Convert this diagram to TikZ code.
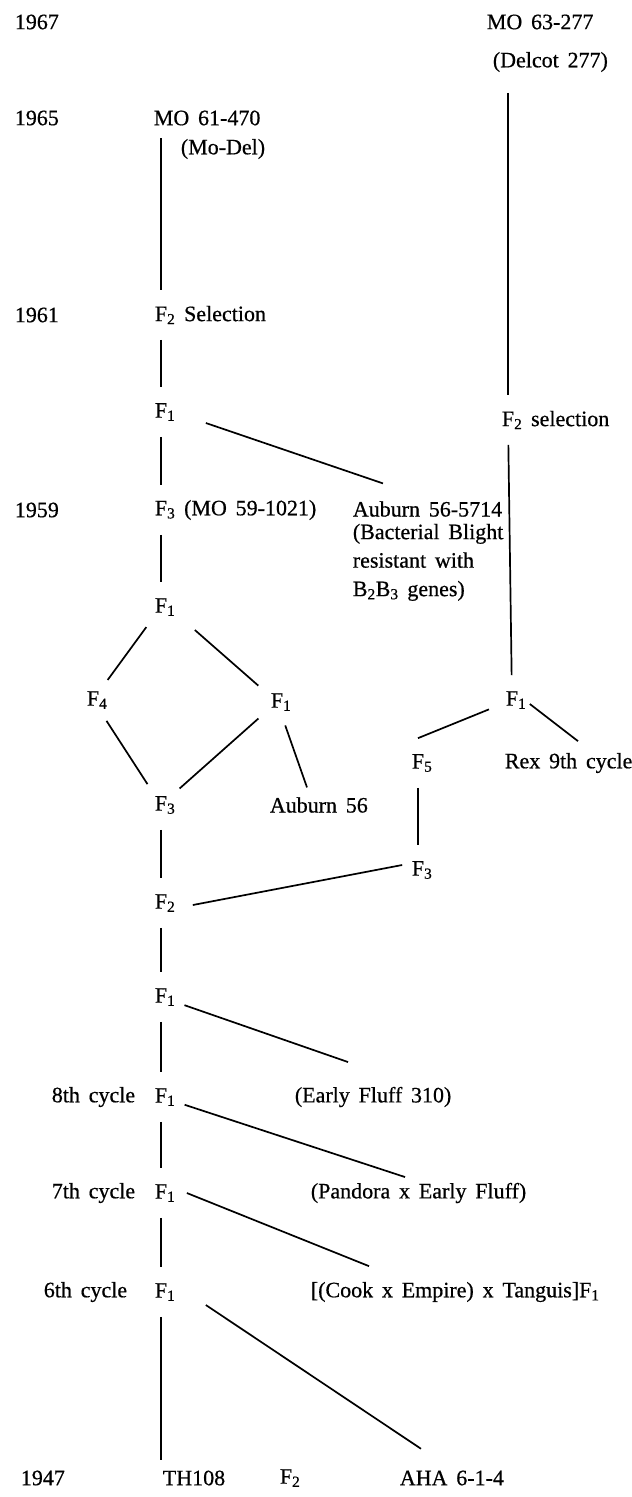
\documentclass[tikz,border=0pt]{standalone}
\usepackage{fontspec}
\setmainfont{Liberation Serif}[FakeBold=0.6]
\newcommand{\lblfont}{\fontsize{22}{28.5}\selectfont\spaceskip=.4em\relax}
\newcommand{\gen}[1]{F\rlap{\textsubscript{#1}}}

\begin{document}
\begin{tikzpicture}[x=1pt,y=-1pt,line width=1.7pt,
		every node/.style={font=\lblfont,inner sep=0pt},
		gen/.style={circle,minimum size=48pt},
		lbl/.style={anchor=west}]
	\useasboundingbox (0,0) rectangle (632,1497);

	% years and cycles
	\node[lbl] (y1967) at (14,22) {1967};
	\node[lbl] (y1965) at (14,118) {1965};
	\node[lbl] (y1961) at (14,315) {1961};
	\node[lbl] (y1959) at (14,510) {1959};
	\node[lbl] (y1947) at (20,1478) {1947};
	\node[lbl] (c8) at (51,1097) {8th cycle};
	\node[lbl] (c7) at (51,1193) {7th cycle};
	\node[lbl] (c6) at (43,1292) {6th cycle};

	% main line
	\node[lbl] (mo61) at (153,118) {MO 61-470};
	\node[lbl] (model) at (180,149) {(Mo-Del)};
	\node[gen] (f2sel) at (161,315) {F\rlap{\textsubscript{2} Selection}};
	\node[gen] (f1a) at (161,412) {\gen{1}};
	\node[gen] (f3a) at (161,510) {F\rlap{\textsubscript{3} (MO 59-1021)}};
	\node[lbl] (aub) at (352,509) {Auburn 56-5714};
	\node[anchor=north west,align=left] (aubnote) at (352,523) {(Bacterial Blight\\resistant with\\B\textsubscript{2}B\textsubscript{3} genes)};
	\node[gen] (f1b) at (161,607) {\gen{1}};
	\node[gen] (f4) at (93,700) {\gen{4}};
	\node[gen] (f1c) at (277,702) {\gen{1}};
	\node[gen] (f3b) at (161,805) {\gen{3}};
	\node[lbl] (aub56) at (269,805) {Auburn 56};
	\node[gen] (f2a) at (161,903) {\gen{2}};
	\node[gen] (f1d) at (161,997) {\gen{1}};
	\node[gen] (f1e) at (161,1097) {\gen{1}};
	\node[lbl] (ef) at (294,1097) {(Early Fluff 310)};
	\node[gen] (f1f) at (161,1193) {\gen{1}};
	\node[lbl] (pan) at (310,1193) {(Pandora x Early Fluff)};
	\node[gen] (f1g) at (161,1292) {\gen{1}};
	\node[lbl] (cook) at (310,1292) {[(Cook x Empire) x Tanguis]F\textsubscript{1}};
	\node[lbl] (th108) at (162,1478) {TH108};
	\node[gen] (f2b) at (286,1478) {\gen{2}};
	\node[lbl] (aha) at (399,1478) {AHA 6-1-4};

	% right line
	\node[lbl] (mo63) at (486,22) {MO 63-277};
	\node[lbl] (delcot) at (492,62) {(Delcot 277)};
	\node[gen] (f2s) at (508,420) {F\rlap{\textsubscript{2} selection}};
	\node[gen] (f1r) at (512,700) {\gen{1}};
	\node[gen] (f5) at (418,763) {\gen{5}};
	\node[lbl] (rex) at (504,763) {Rex 9th cycle};
	\node[gen] (f3r) at (418,870) {\gen{3}};

	\draw[shorten <=12pt] (f2sel |- mo61.south) -- (f2sel);
	\draw (f2sel) -- (f1a);
	\draw (f1a) -- (f3a);
	\draw ([xshift=20pt,yshift=-11pt]f1a.east) -- ([xshift=31pt,yshift=17pt]aub.north west);
	\draw (f3a) -- (f1b);
	\draw (f1b) -- (f4);
	\draw ([xshift=9pt,yshift=-23pt]f1b.east) -- (f1c);
	\draw (f4) -- (f3b);
	\draw (f1c) -- (f3b);
	\draw (f1c) -- ([xshift=38pt,yshift=9pt]aub56.north west);
	\draw (f3b) -- (f2a);
	\draw ([xshift=7pt,yshift=-2pt]f2a.east) -- ([xshift=9pt,yshift=5pt]f3r.west);
	\draw (f2a) -- (f1d);
	\draw (f1d) -- ([xshift=54pt,yshift=24pt]ef.north west);
	\draw (f1d) -- (f1e);
	\draw (f1e) -- ([xshift=95pt,yshift=5pt]pan.north west);
	\draw (f1e) -- (f1f);
	\draw ([xshift=1pt]f1f.east) -- ([xshift=59pt,yshift=15pt]cook.north west);
	\draw (f1f) -- (f1g);
	\draw[shorten >=10pt] (f1g) -- (f1g |- th108.north);
	\draw ([xshift=20pt,yshift=-13pt]f1g.east) -- ([xshift=22pt,yshift=21pt]aha.north west);

	\draw[shorten <=20pt] (f2s |- delcot.south) -- (f2s);
	\draw (f2s) -- (f1r);
	\draw (f1r) -- (f5.north);
	\draw ([xshift=-7pt,yshift=-4pt]f1r.east) -- ([xshift=74pt,yshift=11pt]rex.north west);
	\draw (f5) -- (f3r);
\end{tikzpicture}
\end{document}
